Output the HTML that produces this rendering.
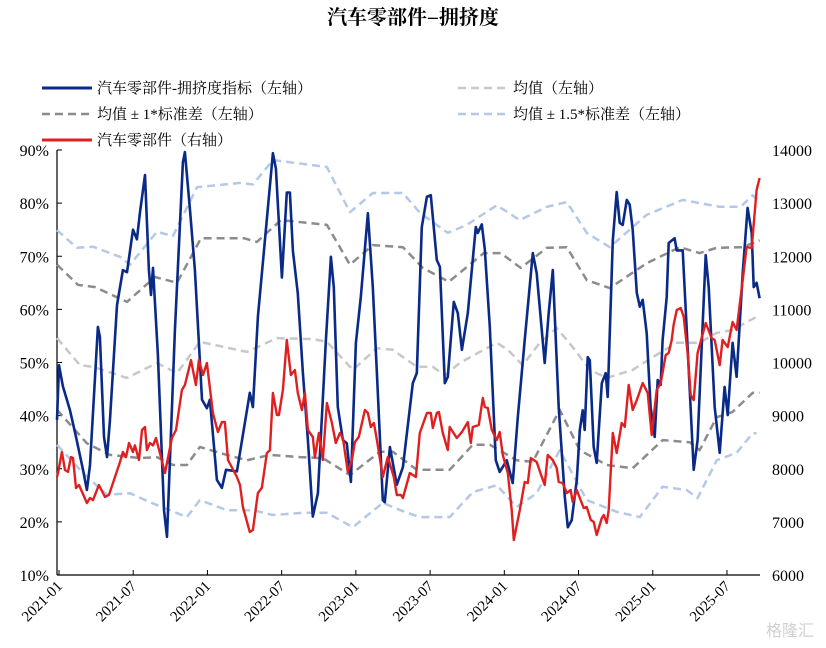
<!DOCTYPE html>
<html><head><meta charset="utf-8">
<style>
body{margin:0;background:#fff;}
svg{display:block;font-family:"Liberation Serif","Noto Serif CJK SC",serif;}
</style></head>
<body>
<svg id="chart" width="826" height="648" viewBox="0 0 826 648" xmlns="http://www.w3.org/2000/svg">
<text x="413" y="24" text-anchor="middle" font-size="20" font-weight="bold" font-family="'Noto Serif CJK SC',serif">汽车零部件–拥挤度</text>
<g font-size="15" font-family="'Liberation Serif','Noto Serif CJK SC',serif">
 <g><line x1="42" y1="88" x2="92" y2="88" stroke="#0a2a88" stroke-width="3"/><text x="97" y="93">汽车零部件-拥挤度指标（左轴）</text></g>
 <g><line x1="458" y1="88" x2="508" y2="88" stroke="#c8c8c8" stroke-width="2.5" stroke-dasharray="8,5"/><text x="513" y="93">均值（左轴）</text></g>
 <g><line x1="42" y1="114" x2="92" y2="114" stroke="#8c8c8c" stroke-width="2.5" stroke-dasharray="8,5"/><text x="97" y="119" xml:space="preserve">均值 ± 1*标准差（左轴）</text></g>
 <g><line x1="458" y1="114" x2="508" y2="114" stroke="#b4c8e8" stroke-width="2.5" stroke-dasharray="8,5"/><text x="513" y="119" xml:space="preserve">均值 ± 1.5*标准差（左轴）</text></g>
 <g><line x1="42" y1="140" x2="92" y2="140" stroke="#e02020" stroke-width="3"/><text x="97" y="145">汽车零部件（右轴）</text></g>
</g>
<g id="axes"></g>
<g id="series"></g>
<text x="790" y="636" text-anchor="middle" font-size="16" fill="#d0d0d0" font-family="'Noto Sans CJK SC',sans-serif">格隆汇</text>
</svg>
<script>
const xTickMonths=[0,6,12,18,24,30,36,42,48,54];
const xTickLabels=["2021-01","2021-07","2022-01","2022-07","2023-01","2023-07","2024-01","2024-07","2025-01","2025-07"];
const leftTicks=[10,20,30,40,50,60,70,80,90];
const rightTicks=[6000,7000,8000,9000,10000,11000,12000,13000,14000];

const crowdT=[0,0.16,0.48,1.05,1.54,2.1,2.42,2.67,3.31,3.47,3.8,4.04,4.28,4.85,5.33,5.66,6.14,6.46,6.71,7.11,7.43,7.6,7.76,8.16,8.65,8.89,9.53,10.18,10.34,10.75,11.15,11.72,12.12,12.36,12.93,13.33,13.66,14.54,15.59,15.84,16.24,17.45,17.7,18.18,18.58,18.83,19.07,19.47,19.88,20.28,20.68,21.09,21.74,22.14,22.38,22.7,23.11,23.43,23.76,24.16,24.56,25.13,25.53,25.86,26.34,26.5,26.91,27.47,27.96,28.76,29.09,29.49,29.9,30.22,30.7,30.95,31.35,31.59,32.08,32.4,32.73,33.21,33.86,34.02,34.34,34.58,34.99,35.47,35.79,36.36,36.84,37.25,37.81,38.46,38.78,39.43,39.75,40.08,40.56,41.05,41.29,41.61,42.02,42.26,42.5,42.66,42.9,43.07,43.39,43.63,44.04,44.36,44.52,44.93,45.25,45.49,45.73,46.06,46.3,46.54,46.87,47.11,47.35,47.67,47.99,48.32,48.56,48.8,48.96,49.29,49.45,49.93,50.1,50.58,50.9,51.47,51.79,52.44,52.68,53.17,53.57,53.97,54.22,54.62,54.94,55.43,55.83,56.16,56.32,56.56,56.8];
const crowdV=[39.2,49.5,45.5,41,36,29.8,26,30.7,56.7,54.8,36,32.2,39,60.8,67.4,67,75,73.2,78.3,85.3,67.4,62.7,67.8,51.4,22.2,17.2,56,87.7,89.6,78.7,67.4,43,41.4,43,27.9,26.4,29.8,29.5,44.3,41.6,58.6,89.4,86.5,66,82,82,71,63,48,35.4,21,25.4,54.2,69.9,64.2,41.6,35.4,34.8,27.5,53.7,62.3,78.1,64.2,48,24.1,23.7,34.1,27,30.3,46.1,48,75.5,81.2,81.5,69.3,68,46.1,47.3,61.4,59.3,52.4,59.3,75.5,74.4,76,71.3,56.7,31.6,29.4,31.6,27.3,39.7,54.2,70.6,66.8,49.9,59.3,67.4,41.6,24.7,19,20.3,27.9,37.3,41,37.3,51,50.4,34.1,31.1,46.1,48,43.5,73,82.1,76.3,75.9,80.6,79.7,75,63.1,60.5,61.8,55.5,41.6,36,46.7,45.8,54.2,62.3,72.5,73.4,71.1,71.1,56.7,29.8,35.4,70.2,64.2,41.6,33,45.4,40.1,53.7,47.3,66.8,79.1,74.4,64.2,65,62.1];

const indexT=[0,0.08,0.4,0.65,0.89,1.13,1.29,1.54,1.78,2.42,2.67,2.91,3.39,3.88,4.2,4.69,5.09,5.33,5.58,5.82,6.14,6.3,6.63,6.87,7.11,7.27,7.51,7.76,8.0,8.32,8.73,9.29,9.62,10.1,10.34,10.83,11.23,11.47,11.8,12.12,12.6,13.01,13.33,13.57,13.82,14.54,14.79,15.03,15.59,15.84,16.24,16.56,16.97,17.21,17.45,17.78,17.94,18.26,18.58,18.91,19.23,19.47,19.8,20.04,20.28,20.68,20.85,21.17,21.49,21.82,22.22,22.54,22.87,23.11,23.51,23.84,24.08,24.4,24.89,25.13,25.37,25.62,25.86,26.34,26.74,27.23,27.47,27.8,27.96,28.52,29.01,29.33,29.9,30.22,30.38,30.7,30.87,31.19,31.59,31.75,32.32,32.73,33.21,33.45,33.61,34.1,34.42,34.58,34.83,35.15,35.55,35.79,36.04,36.44,36.76,36.93,37.41,37.81,38.06,38.3,38.78,39.19,39.43,39.67,40.08,40.4,40.56,40.88,41.21,41.53,41.69,42.02,42.26,42.58,42.82,43.15,43.39,43.63,44.04,44.2,44.44,44.6,44.93,45.25,45.65,45.9,46.22,46.54,46.87,47.35,47.75,48.08,48.48,48.8,49.21,49.45,49.69,49.85,50.1,50.42,50.66,50.98,51.23,51.47,51.79,52.44,52.92,53.17,53.57,53.81,54.22,54.62,54.94,55.43,55.75,56.16,56.56,56.8];
const indexV=[7844,7920,8315,7976,7940,8221,8200,7637,7694,7355,7450,7410,7694,7468,7510,7844,8127,8315,8220,8484,8315,8440,8164,8729,8785,8353,8484,8440,8578,8296,7920,8578,8729,9482,9576,10046,9576,10046,9764,9990,9049,8691,8879,8879,8164,7844,7694,7280,6809,6847,7543,7640,8296,8350,9425,9011,9011,9482,10423,9764,9858,9425,9105,9425,8729,8597,8221,8672,8164,9237,8861,8484,8672,8578,7938,8164,8503,8597,9105,9049,8785,8861,8541,7844,8221,7844,7506,7506,7449,7920,7844,8672,9049,9049,8767,9049,9068,8672,8353,8785,8578,8691,8879,8484,8785,8823,9331,9162,9143,8729,8541,8691,8259,7920,7223,6659,7223,7750,7731,8202,8127,7844,7694,8259,8164,8014,7750,7731,7543,7600,7374,7600,7449,7261,7280,7035,7000,6753,7073,7130,6979,7223,8672,8296,8861,8790,9576,9105,9293,9614,9425,8635,9482,9610,10140,10180,10423,10705,10987,11025,10860,10178,9388,9293,10178,10743,10460,10423,9952,10423,10290,10762,10611,11552,12173,12155,13246,13472];

const meanT=[0,1.86,2.91,5.66,8.08,9.7,11.55,15.35,17.78,20.68,21.82,23.92,25.86,27.15,29.09,30.38,31.35,32.56,34.18,35.55,36.44,37.65,39.03,40.4,41.69,43.07,44.44,46.54,48.16,50.1,51.95,53.33,54.62,55.75,56.8];
const meanV=[54.6,49.5,49.2,47.1,49.9,48,53.9,52,54.6,54.4,53.9,48.6,52.7,52.4,49.2,49.2,47.6,49.9,52,53.7,52.4,49.5,53.7,56.5,52.9,48.6,47.1,48.6,51,53.7,53.7,55.6,56.1,57.6,58.9];

const up1T=[0,1.7,3.07,5.66,7.92,9.7,11.64,15.11,16.16,18.1,21.82,23.68,25.54,27.96,29.33,29.57,31.67,34.5,35.87,37.49,39.6,41.21,42.83,44.69,47.67,50.34,51.95,53.33,55.43,56.8];
const up1V=[68.4,64.6,64.2,61.4,66.1,65,73.4,73.4,72.7,76.8,75.9,68.4,72.1,71.7,68.4,67.8,65.2,70.6,70.6,67.8,71.6,71.7,65.5,64,68.7,71.7,70.6,71.6,71.7,73];
const lo1T=[0,2.42,4.28,6.71,8.08,9.37,10.5,11.55,13.73,15.35,17.21,19.64,21.49,23.68,26.1,27.15,29.09,31.75,33.61,35.0,37.17,38.46,40.64,42.26,44.44,46.54,48.96,51.14,51.95,53.33,54.62,56.24,56.8];
const lo1V=[41.1,34.8,32.6,32,32.2,30.7,30.7,34.1,32.6,31.6,32.6,32.2,32,28.8,33.2,33.2,29.8,29.8,34.5,34.5,31.6,31.3,41.1,33.5,30.7,30.1,35.4,35,33.5,39.7,40.7,44.3,44.3];
const up15T=[0,1.62,2.91,5.09,5.9,8.08,9.37,11.32,14.79,15.84,17.45,21.82,23.68,25.54,27.96,29.33,31.59,33.13,35.55,37.41,39.6,41.21,42.83,44.69,47.67,50.58,51.95,53.57,55.27,56.24,56.8];
const up15V=[74.9,71.6,71.8,69.9,68.4,74.6,73.8,83,83.8,83.5,88.1,86.8,78.3,81.9,81.9,78.2,74.4,75.9,79.6,76.8,79.3,80.2,74.4,71.7,77.8,80.6,80,79.3,79.3,81.5,80.2];
const lo15T=[0,2.1,4.04,5.9,7.51,9.13,10.5,11.55,13.73,15.84,17.45,19.88,21.82,23.92,26.34,27.76,29.33,31.75,33.61,35.55,37.17,38.78,40.64,42.83,45.25,47.11,48.96,50.9,51.79,53.33,54.94,56.24,56.56];
const lo15V=[34.5,29.2,25.1,25.4,23.7,22.2,20.9,24.1,22.2,22.2,21.3,21.7,21.7,19,23.6,22.2,20.9,20.9,25.6,26.9,22.8,25.4,33.5,24.1,21.9,20.9,26.6,26,24.5,31.6,33,36.7,36.7];

const NS="http://www.w3.org/2000/svg";
const X0=57,XPM=12.37,YB=575,YT=150;
function xs(m){return X0+m*XPM;}
function yl(v){return YB-(v-10)/80*(YB-YT);}
function yr(v){return YB-(v-6000)/8000*(YB-YT);}
function mk(tag,attrs,parent){const e=document.createElementNS(NS,tag);for(const k in attrs)e.setAttribute(k,attrs[k]);parent.appendChild(e);return e;}
const axes=document.getElementById('axes');
const series=document.getElementById('series');

let a=mk('line',{x1:X0,y1:YT,x2:X0,y2:YB,stroke:'#000','stroke-width':1.2},axes);


a=mk('line',{x1:X0,y1:YB,x2:760,y2:YB,stroke:'#000','stroke-width':1.2},axes);



leftTicks.forEach(v=>{
  const y=yl(v);
  const t=mk('line',{x1:X0,y1:y,x2:X0+5,y2:y,stroke:'#000','stroke-width':1},axes);
  
  
  const l=mk('text',{x:49,y:y+6,'text-anchor':'end','font-size':16},axes);
  l.textContent=v+'%';
  
  
});
rightTicks.forEach(v=>{
  const y=yr(v);
  const l=mk('text',{x:772,y:y+6,'font-size':16},axes);
  l.textContent=v;
  
  
});
xTickMonths.forEach((m,i)=>{
  const x=xs(m)+2;
  const t=mk('line',{x1:x,y1:YB,x2:x,y2:YB-5,stroke:'#000','stroke-width':1},axes);
  
  
  const l=mk('text',{x:x+4,y:YB+12,'text-anchor':'end','font-size':15,transform:`rotate(-45 ${x+4} ${YB+12})`},axes);
  l.textContent=xTickLabels[i];
  
  
});

function path(T,V,yf,style,name){
  const d=T.map((t,i)=>(i?'L':'M')+xs(t).toFixed(1)+','+yf(V[i]).toFixed(1)).join('');
  const p=mk('path',Object.assign({d:d,fill:'none','stroke-linejoin':'round'},style),series);
  
  
}
const dash={'stroke-width':2.5,'stroke-dasharray':'8,5'};
path(up15T,up15V,yl,Object.assign({stroke:'#b4c8e8'},dash),'upper-1.5sd-line');
path(lo15T,lo15V,yl,Object.assign({stroke:'#b4c8e8'},dash),'lower-1.5sd-line');
path(up1T,up1V,yl,Object.assign({stroke:'#8c8c8c'},dash),'upper-1sd-line');
path(lo1T,lo1V,yl,Object.assign({stroke:'#8c8c8c'},dash),'lower-1sd-line');
path(meanT,meanV,yl,Object.assign({stroke:'#c8c8c8'},dash),'mean-line');
path(crowdT,crowdV,yl,{stroke:'#0a2a88','stroke-width':2.6},'crowding-index-line');
path(indexT,indexV,yr,{stroke:'#e02020','stroke-width':2.4},'sector-index-line');
</script>
</body></html>
